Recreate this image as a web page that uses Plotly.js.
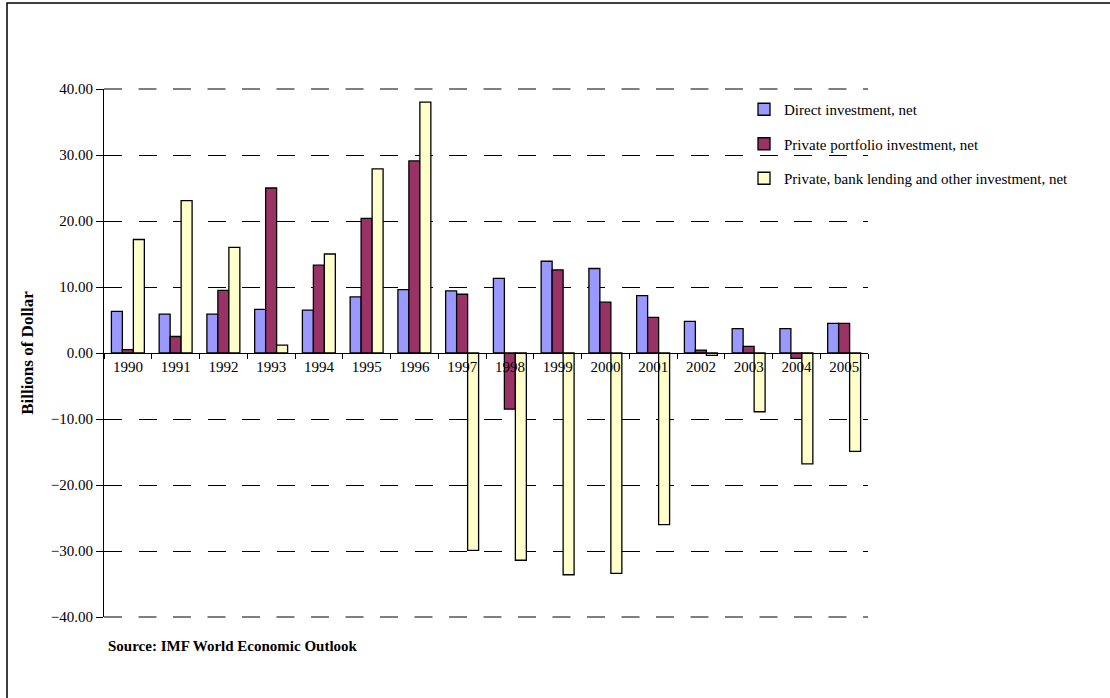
<!DOCTYPE html>
<html>
<head>
<meta charset="utf-8">
<script src="https://cdn.plot.ly/plotly-3.0.1.min.js"></script>
<style>html,body{margin:0;padding:0;background:#fff;}#chart{width:1110px;height:698px;}</style>
</head>
<body>
<div id="chart"></div>
<script>
const years = ['1990','1991','1992','1993','1994','1995','1996','1997','1998','1999','2000','2001','2002','2003','2004','2005'];
const directInvestment = [6.3, 5.9, 5.9, 6.6, 6.5, 8.5, 9.6, 9.4, 11.3, 13.9, 12.8, 8.7, 4.8, 3.7, 3.7, 4.5];
const portfolioInvestment = [0.5, 2.5, 9.5, 25.0, 13.3, 20.4, 29.1, 8.9, -8.5, 12.6, 7.7, 5.4, 0.45, 1.0, -0.8, 4.5];
const bankLending = [17.2, 23.1, 16.0, 1.2, 15.0, 27.9, 38.0, -29.9, -31.4, -33.6, -33.4, -26.0, -0.35, -8.9, -16.8, -14.9];
const seriesNames = ['Direct investment, net', 'Private portfolio investment, net', 'Private, bank lending and other investment, net'];
const yTicks = [-40, -30, -20, -10, 0, 10, 20, 30, 40];

const font = 'Liberation Serif, Times New Roman, serif';
const colors = ['#9999FF', '#993366', '#FFFFCC'];
const allSeries = [directInvestment, portfolioInvestment, bankLending];

const data = allSeries.map((vals, i) => ({
  type: 'bar',
  x: years,
  y: vals,
  name: seriesNames[i],
  legendgroup: 'g' + i,
  marker: {color: colors[i], line: {color: '#000', width: 1.3}},
  hoverinfo: 'x+y+name'
}));

const L = 104, R = 868, T = 89, B = 617;
const W = 1110, H = 698;
const px2x = p => (p - L) / (R - L);
const py2y = p => (B - p) / (B - T);
const FS = 15;
const gridDash = '18px,16.5px';

const yMin = yTicks[0], yMax = yTicks[yTicks.length - 1];
// range spans exactly [yMin, yMax], so the edge grid lines sit at paper 0 and 1
const edgeGrid = [0, 1].map(v => ({
  type: 'line', xref: 'paper', yref: 'paper', layer: 'above',
  x0: 0, x1: 1, y0: v, y1: v,
  line: {color: '#000', width: 1, dash: gridDash}
}));

const layout = {
  width: W, height: H,
  margin: {l: L, r: W - R, t: T, b: H - B, pad: 0},
  paper_bgcolor: '#fff', plot_bgcolor: '#fff',
  font: {family: font, size: FS, color: '#000'},
  barmode: 'group',
  bargap: 0.31,
  bargroupgap: 0,
  showlegend: true,
  legend: {
    x: px2x(744), y: py2y(93), xanchor: 'left', yanchor: 'top',
    font: {family: font, size: FS, color: '#000'},
    tracegroupgap: 12,
    itemwidth: 30,
    bgcolor: 'rgba(0,0,0,0)'
  },
  xaxis: {
    type: 'category',
    anchor: 'free',
    position: 0.5,
    showline: true, linecolor: '#000', linewidth: 1,
    ticks: 'outside', ticklen: 5, tickcolor: '#000', tickwidth: 1,
    tickson: 'boundaries',
    showgrid: false,
    tickfont: {family: font, size: FS, color: '#000'},
    fixedrange: true
  },
  yaxis: {
    range: [yMin, yMax],
    tickvals: yTicks,
    tickformat: '.2f',
    showline: true, linecolor: '#000', linewidth: 1,
    ticks: 'outside', ticklen: 7, tickcolor: '#000',
    showgrid: true, gridcolor: '#000', gridwidth: 1, griddash: gridDash,
    zeroline: true, zerolinecolor: '#000', zerolinewidth: 1,
    tickfont: {family: font, size: FS, color: '#000'},
    title: {text: '<b>Billions of Dollar</b>', font: {family: font, size: 17, color: '#000'}, standoff: 12},
    fixedrange: true
  },
  annotations: [{
    xref: 'paper', yref: 'paper', x: px2x(106), y: py2y(646),
    xanchor: 'left', yanchor: 'middle', showarrow: false,
    text: '<b>Source: IMF World Economic Outlook</b>',
    font: {family: font, size: FS, color: '#000'}
  }],
  shapes: [{
    type: 'rect', xref: 'paper', yref: 'paper', layer: 'below',
    x0: px2x(7), x1: px2x(1120), y0: py2y(710), y1: py2y(3),
    line: {color: '#000', width: 1.5}, fillcolor: 'rgba(0,0,0,0)'
  }, {
    type: 'rect', xref: 'paper', yref: 'paper', layer: 'between',
    x0: px2x(745), x1: 1.01, y0: py2y(193), y1: py2y(96),
    line: {width: 0}, fillcolor: '#fff'
  }].concat(edgeGrid)
};

Plotly.newPlot('chart', data, layout, {displayModeBar: false, staticPlot: true});
</script>
</body>
</html>
